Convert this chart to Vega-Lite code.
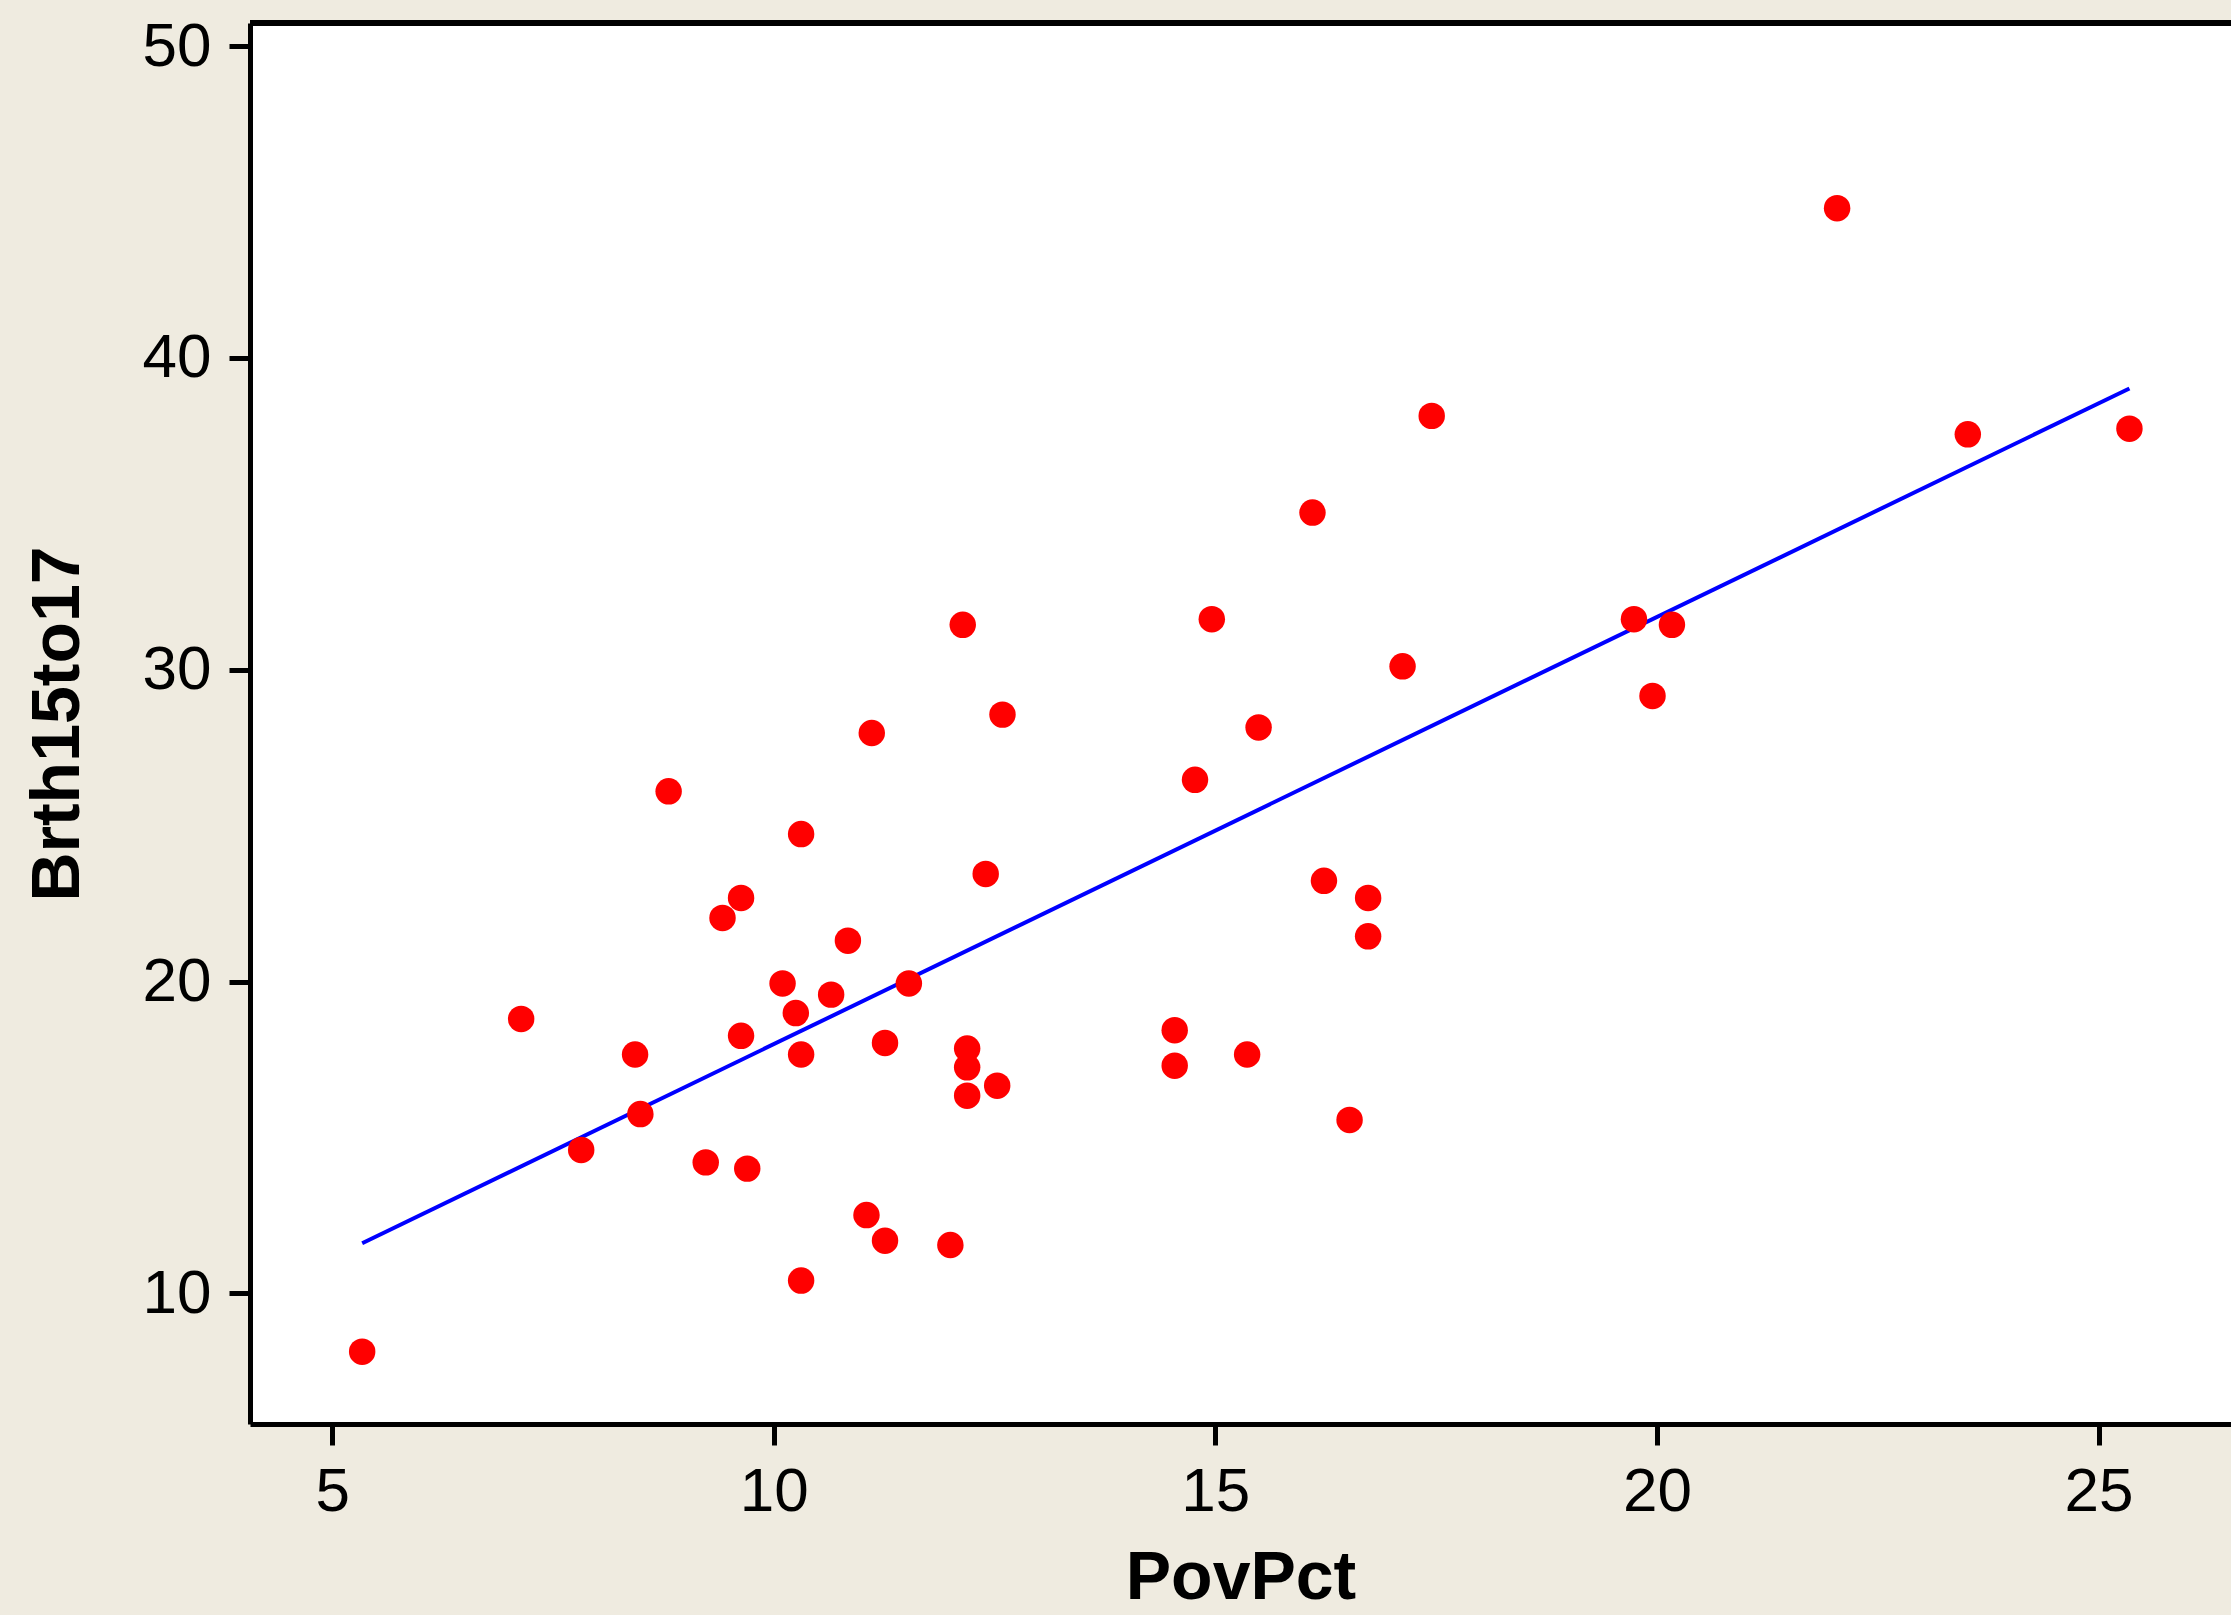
{
  "$schema": "https://vega.github.io/schema/vega-lite/v6.json",
  "width": 1981,
  "height": 1401,
  "autosize": "none",
  "padding": {"left": 250, "top": 23, "right": 0, "bottom": 191},
  "background": "#EFEBE0",
  "config": {
    "view": {"fill": "white", "stroke": null},
    "axis": {
      "domainColor": "black", "domainWidth": 5,
      "tickColor": "black", "tickWidth": 5, "tickSize": 21,
      "labelFont": "Liberation Sans", "labelFontSize": 62, "labelColor": "black",
      "titleFont": "Liberation Sans", "titleFontSize": 68, "titleFontWeight": "bold", "titleColor": "black",
      "grid": false
    }
  },
  "data": {"values": [
    {"PovPct": 5.34, "Brth15to17": 8.13},
    {"PovPct": 7.14, "Brth15to17": 18.8},
    {"PovPct": 7.82, "Brth15to17": 14.6},
    {"PovPct": 8.43, "Brth15to17": 17.66},
    {"PovPct": 8.49, "Brth15to17": 15.75},
    {"PovPct": 8.81, "Brth15to17": 26.1},
    {"PovPct": 9.23, "Brth15to17": 14.2},
    {"PovPct": 9.42, "Brth15to17": 22.04},
    {"PovPct": 9.63, "Brth15to17": 22.68},
    {"PovPct": 9.63, "Brth15to17": 18.26},
    {"PovPct": 9.7, "Brth15to17": 14.0},
    {"PovPct": 10.1, "Brth15to17": 19.94},
    {"PovPct": 10.25, "Brth15to17": 18.99},
    {"PovPct": 10.31, "Brth15to17": 24.73},
    {"PovPct": 10.31, "Brth15to17": 17.66},
    {"PovPct": 10.31, "Brth15to17": 10.41},
    {"PovPct": 10.65, "Brth15to17": 19.58},
    {"PovPct": 10.84, "Brth15to17": 21.31},
    {"PovPct": 11.05, "Brth15to17": 12.51},
    {"PovPct": 11.11, "Brth15to17": 27.97},
    {"PovPct": 11.26, "Brth15to17": 11.69},
    {"PovPct": 11.26, "Brth15to17": 18.03},
    {"PovPct": 11.53, "Brth15to17": 19.94},
    {"PovPct": 12.0, "Brth15to17": 11.55},
    {"PovPct": 12.14, "Brth15to17": 31.44},
    {"PovPct": 12.19, "Brth15to17": 17.85},
    {"PovPct": 12.19, "Brth15to17": 17.25},
    {"PovPct": 12.19, "Brth15to17": 16.34},
    {"PovPct": 12.4, "Brth15to17": 23.45},
    {"PovPct": 12.53, "Brth15to17": 16.66},
    {"PovPct": 12.59, "Brth15to17": 28.56},
    {"PovPct": 14.54, "Brth15to17": 18.44},
    {"PovPct": 14.54, "Brth15to17": 17.3},
    {"PovPct": 14.77, "Brth15to17": 26.47},
    {"PovPct": 14.96, "Brth15to17": 31.62},
    {"PovPct": 15.36, "Brth15to17": 17.66},
    {"PovPct": 15.49, "Brth15to17": 28.15},
    {"PovPct": 16.1, "Brth15to17": 35.04},
    {"PovPct": 16.23, "Brth15to17": 23.23},
    {"PovPct": 16.52, "Brth15to17": 15.56},
    {"PovPct": 16.73, "Brth15to17": 22.68},
    {"PovPct": 16.73, "Brth15to17": 21.45},
    {"PovPct": 17.12, "Brth15to17": 30.11},
    {"PovPct": 17.45, "Brth15to17": 38.14},
    {"PovPct": 19.74, "Brth15to17": 31.62},
    {"PovPct": 19.95, "Brth15to17": 29.16},
    {"PovPct": 20.17, "Brth15to17": 31.44},
    {"PovPct": 22.04, "Brth15to17": 44.8},
    {"PovPct": 23.52, "Brth15to17": 37.55},
    {"PovPct": 25.35, "Brth15to17": 37.73}
  ]},
  "encoding": {
    "x": {
      "field": "PovPct", "type": "quantitative",
      "scale": {"domain": [4.07, 26.5], "nice": false, "zero": false},
      "axis": {"values": [5, 10, 15, 20, 25], "labelPadding": 16, "titlePadding": 22, "title": "PovPct"}
    },
    "y": {
      "field": "Brth15to17", "type": "quantitative",
      "scale": {"domain": [5.81, 50.74], "nice": false, "zero": false},
      "axis": {"values": [10, 20, 30, 40, 50], "labelPadding": 18, "titlePadding": 50, "title": "Brth15to17"}
    }
  },
  "layer": [
    {
      "mark": {"type": "rule", "color": "black", "strokeWidth": 5},
      "encoding": {"y": {"datum": 50.74}, "x": null}
    },
    {
      "mark": {"type": "line", "color": "#0000FF", "strokeWidth": 4},
      "transform": [{"regression": "Brth15to17", "on": "PovPct"}]
    },
    {
      "mark": {"type": "circle", "color": "#FF0000", "opacity": 1, "size": 700}
    }
  ]
}
